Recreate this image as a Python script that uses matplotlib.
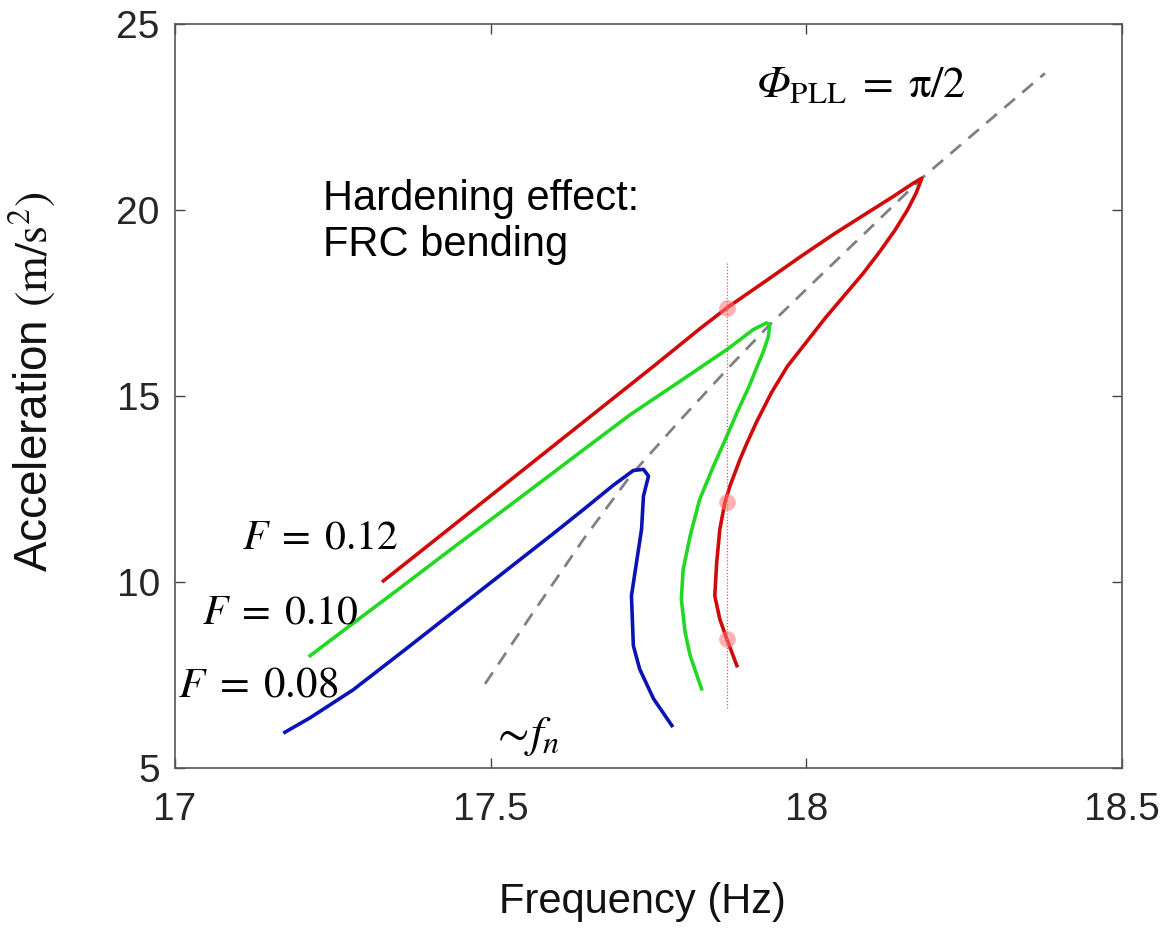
import numpy as np
import matplotlib
matplotlib.use("Agg")
import matplotlib.pyplot as plt

plt.rcParams['font.family'] = ['Liberation Sans', 'DejaVu Sans']
plt.rcParams['mathtext.fontset'] = 'stix'
# custom math font only used for the italic capital Phi label
plt.rcParams['mathtext.rm'] = 'STIXGeneral:italic'
plt.rcParams['mathtext.it'] = 'STIXGeneral:italic'
plt.rcParams['mathtext.sf'] = 'STIXGeneral'

# frequency response curves (Hz, m/s^2)
f_012 = [17.330, 17.414, 17.494, 17.594, 17.680, 17.760, 17.832, 17.874,
         17.937, 17.990, 18.043, 18.095, 18.137, 18.169, 18.183,
         18.174, 18.160, 18.140, 18.117, 18.090, 18.060, 18.030, 18.000,
         17.970, 17.945, 17.921, 17.905, 17.895, 17.879, 17.871, 17.863,
         17.858, 17.855, 17.863, 17.874, 17.890]
a_012 = [10.03, 11.16, 12.24, 13.59, 14.75, 15.83, 16.82, 17.37,
         18.11, 18.74, 19.35, 19.91, 20.36, 20.72, 20.86,
         20.46, 20.00, 19.45, 18.90, 18.30, 17.70, 17.10, 16.45,
         15.80, 15.10, 14.30, 13.70, 13.30, 12.58, 12.14, 11.42,
         10.52, 9.63, 9.00, 8.47, 7.75]

f_010 = [17.214, 17.282, 17.362, 17.441, 17.520, 17.599, 17.641, 17.721,
         17.800, 17.874, 17.916, 17.937, 17.942,
         17.940, 17.932, 17.921, 17.909, 17.890, 17.874, 17.853, 17.831,
         17.816, 17.805, 17.802, 17.808, 17.816, 17.834]
a_010 = [8.02, 8.89, 9.91, 10.93, 11.93, 12.94, 13.48, 14.50,
         15.40, 16.25, 16.79, 16.97, 16.92,
         16.61, 16.20, 15.75, 15.25, 14.55, 13.92, 13.12, 12.22,
         11.24, 10.35, 9.54, 8.65, 8.02, 7.13]

f_008 = [17.174, 17.214, 17.282, 17.362, 17.441, 17.520, 17.599, 17.647,
         17.694, 17.726, 17.742, 17.750, 17.742, 17.739, 17.731, 17.723,
         17.726, 17.736, 17.758, 17.787]
a_008 = [5.96, 6.35, 7.10, 8.15, 9.20, 10.25, 11.30, 11.95,
         12.60, 13.00, 13.03, 12.85, 12.31, 11.42, 10.53, 9.63,
         8.29, 7.66, 6.86, 6.14]

# backbone curve (PLL phase = pi/2)
f_bb = [17.491, 17.560, 17.647, 17.721, 17.800, 17.879, 17.942, 18.020,
        18.100, 18.183, 18.280, 18.378]
a_bb = [7.26, 9.00, 11.15, 12.85, 14.35, 15.80, 16.92, 18.20,
        19.50, 20.86, 22.27, 23.68]

# measured points at a fixed frequency
f_pts = [17.874, 17.874, 17.874]
a_pts = [17.37, 12.14, 8.47]
f_vline = 17.874
a_vline = [6.6, 18.6]

fig = plt.figure(figsize=(11.67, 9.32), dpi=100)
ax = fig.add_axes([0.150, 0.176, 0.8114, 0.798])

ax.plot(f_bb, a_bb, color='#808080', lw=2.0, ls=(0, (5, 3.5)))
ax.plot(f_008, a_008, color='#0a14b4', lw=2.6)
ax.plot(f_010, a_010, color='#22d822', lw=2.6)
ax.plot(f_012, a_012, color='#d00a0a', lw=2.6)
ax.plot([f_vline, f_vline], a_vline, color='#ff5050', lw=0.9, ls=(0, (1, 1.5)))
ax.plot(f_pts, a_pts, 'o', color='#ff7070', alpha=0.55, ms=12, mec='none')

ax.set_xlim(17, 18.5)
ax.set_ylim(5, 25)
ax.set_xticks([17, 17.5, 18, 18.5])
ax.set_xticklabels(['17', '17.5', '18', '18.5'])
ax.set_yticks([5, 10, 15, 20, 25])
ax.tick_params(direction='in', length=7, width=1, colors='#444444',
               labelsize=28, top=True, right=True, labelcolor='#262626')
ax.tick_params(axis='x', pad=17)
ax.tick_params(axis='y', pad=11)
for s in ax.spines.values():
    s.set_color('#555555')
    s.set_linewidth(1.2)

ax.set_xlabel('Frequency (Hz)', fontsize=30, color='#111111')
ax.xaxis.set_label_coords(0.494, -0.153)
ax.set_ylabel(r'Acceleration $(\mathrm{m/s^2})$', fontsize=33, color='#111111')
ax.yaxis.set_label_coords(-0.124, 0.519)

ax.text(17.234, 20.85, 'Hardening effect:\nFRC bending', fontsize=30,
        va='top', ha='left', linespacing=1.22)
ax.text(17.106, 11.21, r'$F\;=\;0.12$', fontsize=30, va='center', ha='left')
ax.text(17.043, 9.19, r'$F\;=\;0.10$', fontsize=30, va='center', ha='left')
ax.text(17.005, 7.23, r'$F\;=\;0.08$', fontsize=31, va='center', ha='left')
ax.text(17.500, 5.85, r'$\sim\!f_n$', fontsize=33, va='center', ha='left')
ax.text(17.921, 23.35, r'$\Phi_{\mathsf{PLL}}\;\mathsf{=}\;\mathsf{\pi/2}$',
        fontsize=32, va='center', ha='left', math_fontfamily='custom')

fig.savefig('out.png', dpi=100, facecolor='white')
